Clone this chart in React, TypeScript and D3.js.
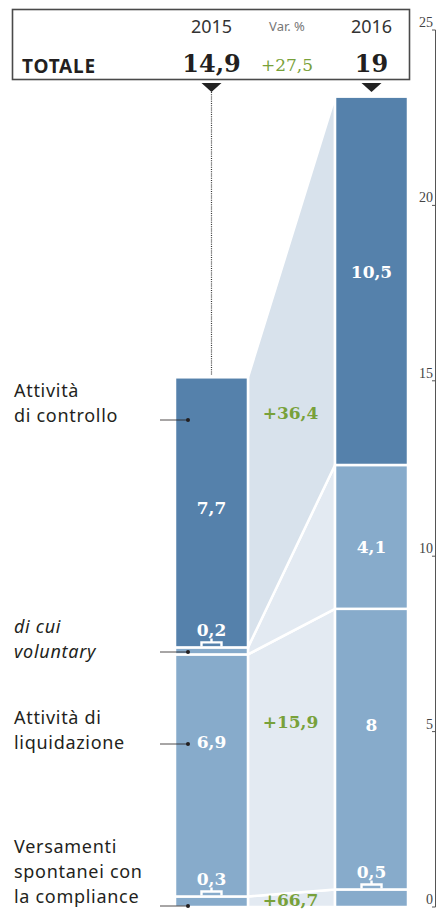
import React from 'react';
import * as d3 from 'd3';

// ---------- data ----------
const years = ['2015', '2016'];
const totalLabels = ['14,9', '19'];
const totalVar = '+27,5';
// stacking order: bottom -> top
const seriesKeys = ['compliance', 'liquidazione', 'voluntary', 'controllo'];
const values2015 = [0.3, 6.9, 0.2, 7.7];
const values2016 = [0.5, 8, 4.1, 10.5];
const valueLabels2015 = ['0,3', '6,9', '0,2', '7,7'];
const valueLabels2016 = ['0,5', '8', '4,1', '10,5'];
const variations = ['+66,7', '+15,9', '', '+36,4'];
const yTicks = [0, 5, 10, 15, 20, 25];
const categoryLines = [
  ['Versamenti', 'spontanei con', 'la compliance'],
  ['Attività di', 'liquidazione'],
  ['di cui', 'voluntary'],
  ['Attività', 'di controllo'],
];

// ---------- layout / style ----------
const W = 439;
const H = 909;
const DARK = '#5581ab';
const LIGHT = '#87abcb';
const BAND_DARK = '#d8e2ec';
const BAND_LIGHT = '#e3eaf2';
const GREEN = '#78a13a';
const INK = '#231f20';
const SERIF = '"DejaVu Serif", Georgia, serif';
const SANS = '"Noto Sans", "Open Sans", sans-serif';

const segColor = [LIGHT, LIGHT, LIGHT, DARK];
const bandColor = [BAND_LIGHT, BAND_LIGHT, BAND_LIGHT, BAND_DARK];
const italicCat = [false, false, true, false];
// pixel layout of annotations
const catFirstBaseline = [853, 724, 633, 397];
const catLineH = 25;
const catLeaderY = [906, 744, 652, 420];
const label2015Y = [null, 742, null, 508]; // null -> bracket label
const label2016Y = [null, 725, 547, 272];
const varY = [906, 722, null, 413];

export default function App() {
  const x = d3.scaleBand<string>().domain(years).range([175, 408]).paddingInner(0.544).paddingOuter(0);
  const y = d3.scaleLinear().domain([0, 25]).range([907, 30]);
  const bw = x.bandwidth();

  const stacks = [values2015, values2016].map((vals) => {
    let acc = 0;
    return vals.map((v) => {
      const s = { y0: acc, y1: acc + v };
      acc += v;
      return s;
    });
  });
  const labelsByYear = [valueLabels2015, valueLabels2016];
  const labelYByYear = [label2015Y, label2016Y];

  const xL = x('2015')! + bw;
  const xR = x('2016')!;
  const cx = years.map((yr) => x(yr)! + bw / 2);
  const midBand = (xL + xR) / 2 - 1;

  const bracket = (cxv: number, top: number, label: string, key: string) => (
    <g key={key}>
      <path
        d={`M${cxv - 10},${top - 1} V${top - 5} H${cxv + 10} V${top - 1} M${cxv},${top - 5} V${top - 9}`}
        stroke="#fff"
        strokeWidth={2.4}
        fill="none"
      />
      <text
        x={cxv}
        y={top - 11}
        textAnchor="middle"
        fill="#fff"
        fontFamily={SERIF}
        fontWeight="bold"
        fontSize={17}
      >
        {label}
      </text>
    </g>
  );

  return (
    <svg width={W} height={H} style={{ position: 'absolute', left: 0, top: 0, background: '#fff' }}>
      {/* connecting bands */}
      {seriesKeys.map((k, i) => {
        const a = stacks[0][i];
        const b = stacks[1][i];
        const pts = [
          [xL, y(a.y0)],
          [xL, y(a.y1)],
          [xR, y(b.y1)],
          [xR, y(b.y0)],
        ];
        return (
          <polygon
            key={'band' + k}
            points={pts.map((p) => p.join(',')).join(' ')}
            fill={bandColor[i]}
            stroke="#fff"
            strokeWidth={2.5}
            strokeLinejoin="round"
          />
        );
      })}

      {/* bars */}
      {years.map((yr, yi) =>
        stacks[yi].map((s, i) => (
          <rect
            key={yr + seriesKeys[i]}
            x={x(yr)!}
            y={y(s.y1)}
            width={bw}
            height={y(s.y0) - y(s.y1)}
            fill={segColor[i]}
            stroke="#fff"
            strokeWidth={2.5}
          />
        ))
      )}

      {/* value labels */}
      {years.map((yr, yi) =>
        stacks[yi].map((s, i) => {
          const ly = labelYByYear[yi][i];
          const lab = labelsByYear[yi][i];
          if (ly === null) return bracket(cx[yi], y(s.y1), lab, 'br' + yr + i);
          return (
            <text
              key={'lab' + yr + i}
              x={cx[yi]}
              y={ly}
              dy="0.36em"
              textAnchor="middle"
              fill="#fff"
              fontFamily={SERIF}
              fontWeight="bold"
              fontSize={17}
            >
              {lab}
            </text>
          );
        })
      )}

      {/* variations */}
      {variations.map((v, i) =>
        v ? (
          <text
            key={'var' + i}
            x={midBand}
            y={varY[i]!}
            dy={i === 0 ? 0 : '0.36em'}
            textAnchor="middle"
            fill={GREEN}
            fontFamily={SERIF}
            fontWeight="bold"
            fontSize={17}
          >
            {v}
          </text>
        ) : null
      )}

      {/* category labels with leaders */}
      {categoryLines.map((lines, i) => (
        <g key={'cat' + i}>
          {lines.map((ln, li) => (
            <text
              key={li}
              x={14}
              y={catFirstBaseline[i] + li * catLineH}
              fill={INK}
              fontFamily={SANS}
              fontSize={18}
              letterSpacing={0.7}
              fontStyle={italicCat[i] ? 'italic' : 'normal'}
            >
              {ln}
            </text>
          ))}
          <line x1={160} x2={188} y1={catLeaderY[i]} y2={catLeaderY[i]} stroke={INK} strokeWidth={0.8} />
          <circle cx={188} cy={catLeaderY[i]} r={2} fill={INK} />
        </g>
      ))}

      {/* dotted connector from header to 2015 bar */}
      <line
        x1={cx[0]}
        x2={cx[0]}
        y1={92}
        y2={y(stacks[0][3].y1) - 2}
        stroke="#333"
        strokeWidth={1.2}
        strokeDasharray="1,1.2"
      />

      {/* header box */}
      <rect x={12.5} y={9.5} width={397} height={70} fill="#fff" stroke="#4a4a4a" strokeWidth={1.6} />
      <text x={22} y={73} fill={INK} fontFamily={SANS} fontWeight="bold" fontSize={19} letterSpacing={0.8}>
        TOTALE
      </text>
      {years.map((yr, yi) => (
        <g key={'hdr' + yr}>
          <text x={cx[yi]} y={33} textAnchor="middle" fill="#333" fontFamily={SANS} fontSize={18}>
            {yr}
          </text>
          <text x={cx[yi]} y={72} textAnchor="middle" fill={INK} fontFamily={SERIF} fontWeight="bold" fontSize={24}>
            {totalLabels[yi]}
          </text>
          <path d={`M${cx[yi] - 10},83 H${cx[yi] + 10} L${cx[yi]},92 Z`} fill="#222" />
        </g>
      ))}
      <text x={287} y={31} textAnchor="middle" fill="#777" fontFamily={SANS} fontSize={13}>
        Var. %
      </text>
      <text x={287} y={71} textAnchor="middle" fill={GREEN} fontFamily={SERIF} fontSize={17}>
        {totalVar}
      </text>

      {/* right axis */}
      <line x1={435.5} x2={435.5} y1={y(25)} y2={y(0)} stroke="#555" strokeWidth={1} />
      {yTicks.map((t) => (
        <g key={'t' + t}>
          <line x1={432} x2={435.5} y1={y(t)} y2={y(t)} stroke="#555" strokeWidth={1} />
          <text
            x={433}
            y={y(t) - 3}
            textAnchor="end"
            fill="#444"
            fontFamily='"Liberation Serif", serif'
            fontSize={14}
          >
            {t}
          </text>
        </g>
      ))}
    </svg>
  );
}
